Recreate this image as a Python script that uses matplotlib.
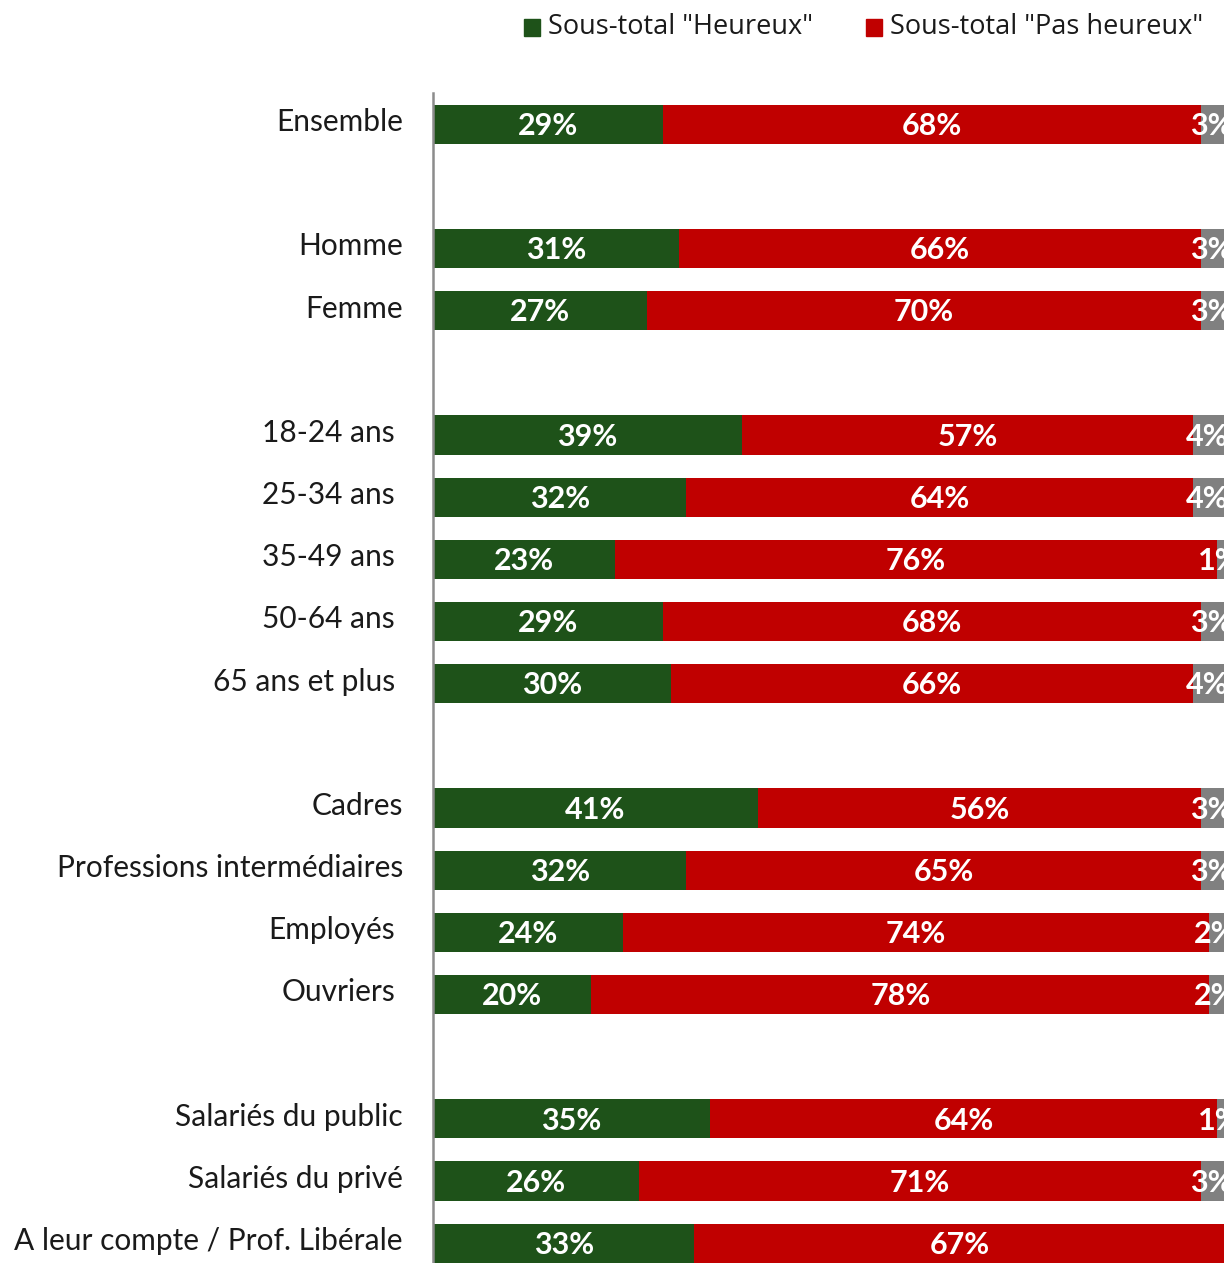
import matplotlib.pyplot as plt
from matplotlib.patches import Rectangle

# Données
categories = ['Ensemble', 'Homme', 'Femme',
              '18-24 ans', '25-34 ans', '35-49 ans', '50-64 ans', '65 ans et plus',
              'Cadres', 'Professions intermédiaires', 'Employés', 'Ouvriers',
              'Salariés du public', 'Salariés du privé', 'A leur compte / Prof. Libérale']
heureux = [29, 31, 27, 39, 32, 23, 29, 30, 41, 32, 24, 20, 35, 26, 33]
pas_heureux = [68, 66, 70, 57, 64, 76, 68, 66, 56, 65, 74, 78, 64, 71, 67]
nsp = [3, 3, 3, 4, 4, 1, 3, 4, 3, 3, 2, 2, 1, 3, 0]
# rang de chaque ligne (une ligne vide entre les groupes)
slots = [0, 2, 3, 5, 6, 7, 8, 9, 11, 12, 13, 14, 16, 17, 18]
# certains libellés sont décalés vers la gauche dans l'original
label_shift = [0, 0, 0, 1, 1, 1, 1, 1, 0, 0, 1, 1, 0, 0, 0]

GREEN = '#1E5219'
RED = '#C00000'
GRAY = '#808080'
FONT = 'Lato'

W, H = 1224, 1263
fig = plt.figure(figsize=(W / 100, H / 100), dpi=100)
ax_left, ax_right = 433 / W, 1225 / W
ax = fig.add_axes([ax_left, 0, ax_right - ax_left, (H - 93) / H])

bh = 0.63
ax.barh(slots, heureux, height=bh, color=GREEN, edgecolor='none')
left2 = [h for h in heureux]
ax.barh(slots, pas_heureux, left=left2, height=bh, color=RED, edgecolor='none')
left3 = [h + p for h, p in zip(heureux, pas_heureux)]
ax.barh(slots, nsp, left=left3, height=bh, color=GRAY, edgecolor='none')

lab_kw = dict(ha='center', va='center', color='white', fontsize=22,
              fontweight='bold', family=FONT)
for s, h, p, n in zip(slots, heureux, pas_heureux, nsp):
    ax.text(h / 2, s + 0.03, f'{h}%', **lab_kw)
    ax.text(h + p / 2, s + 0.03, f'{p}%', **lab_kw)
    if n > 0:
        ax.text(h + p + n / 2 - 0.2, s + 0.03, f'{n}%', clip_on=True, **lab_kw)

ax.set_xlim(0, 100)
ax.set_ylim(18.32, -0.5)
ax.set_xticks([])
ax.set_yticks([])
for sp in ['top', 'right', 'bottom']:
    ax.spines[sp].set_visible(False)
ax.spines['left'].set_color('#8C8C8C')
ax.spines['left'].set_linewidth(1.8)

# libellés des catégories
for s, cat, sh in zip(slots, categories, label_shift):
    x = 403 - 8 * sh
    yc = ax.transData.transform((0, s))[1]
    fig.text(x / W, (yc + 2) / H, cat, ha='right', va='center',
             fontsize=21.5, family=FONT, color='#1A1A1A')

# légende
leg_items = [(524, GREEN, 'Sous-total "Heureux"'), (866, RED, 'Sous-total "Pas heureux"')]
for x0, col, txt in leg_items:
    fig.patches.append(Rectangle((x0 / W, 1 - 36 / H), 16 / W, 17 / H,
                                 transform=fig.transFigure, color=col))
    fig.text((x0 + 24) / W, 1 - 27 / H, txt, ha='left', va='center',
             fontsize=19.5, family='Open Sans', color='#1A1A1A')

fig.savefig('out.png', dpi=100)
